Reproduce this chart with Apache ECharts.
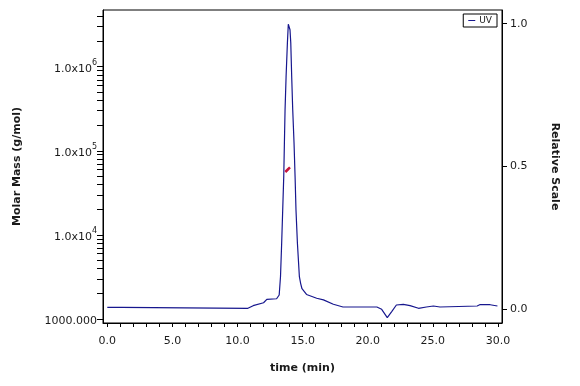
<!DOCTYPE html>
<html>
<head>
<meta charset="utf-8">
<script src="https://cdn.jsdelivr.net/npm/echarts@6/dist/echarts.min.js"></script>
<style>
  html, body { margin: 0; padding: 0; background: #fff; }
  #chart { width: 580px; height: 386px; }
</style>
</head>
<body>
<div id="chart"></div>
<script>
// UV trace (relative scale)
var uvTime = [0, 1.1, 1.15, 10.8, 11.2, 12.0, 12.25, 13.0, 13.2, 13.3, 13.39, 13.47, 13.55, 13.6, 13.65, 13.73, 13.83, 13.9, 13.96,
  14.03, 14.09, 14.16, 14.24, 14.34, 14.42, 14.49, 14.6, 14.75, 14.85, 14.95, 15.06, 15.3, 15.44, 16.08, 16.6, 17.36, 18.1,
  20.7, 21.07, 21.5, 21.84, 22.2, 22.73, 23.25, 23.9, 24.5, 25.04, 25.55, 28.4, 28.6, 29.4, 29.96];
var uvValue = [0.007, 0.007, 0.0035, 0.0035, 0.0126, 0.023, 0.035, 0.037, 0.05, 0.114, 0.231, 0.348, 0.465, 0.582, 0.698, 0.815, 0.932, 0.998, 1.005,
  0.979, 0.932, 0.815, 0.698, 0.582, 0.465, 0.348, 0.231, 0.114, 0.09, 0.072, 0.066, 0.052, 0.047, 0.0386, 0.033, 0.0175, 0.008,
  0.008, 0.0, -0.029, -0.008, 0.015, 0.0175, 0.0126, 0.0035, 0.008, 0.0116, 0.008, 0.0116, 0.016, 0.016, 0.0116];

// molar mass (g/mol)
var mmTime = [13.67, 13.8, 13.9, 14.03];
var mmValue = [56000, 58500, 60800, 63500];

var xLabels = [0, 5, 10, 15, 20, 25, 30];
var xTicks = [];
for (var i = 0; i <= 30; i++) xTicks.push(i);
var rightTicks = [0, 0.5, 1.0];
var logMajor = [1000, 10000, 100000, 1000000];
var logTicks = [];
[1000, 10000, 100000, 1000000].forEach(function (d) {
  for (var k = 1; k <= 9; k++) {
    if (d * k <= 4700000) logTicks.push(d * k);
  }
});

var font = 'DejaVu Sans';
var txt = '#1a1a1a';
var navy = '#17178e';

function pairs(xs, ys) {
  return xs.map(function (x, i) { return [x, ys[i]]; });
}

var borderLine = { show: true, onZero: false, lineStyle: { color: '#000', width: 1 } };

var chart = echarts.init(document.getElementById('chart'));
chart.setOption({
  animation: false,
  backgroundColor: '#fff',
  textStyle: { fontFamily: font },
  grid: {
    left: 103, right: 78, top: 10, bottom: 63,
    show: true, borderColor: '#000', borderWidth: 1, backgroundColor: '#fff'
  },
  legend: {
    data: [{ name: 'UV', icon: 'rect' }],
    right: 83, top: 14,
    itemWidth: 7, itemHeight: 1, itemGap: 4,
    padding: [2, 5, 2, 5],
    borderColor: '#000', borderWidth: 1, backgroundColor: '#fff',
    textStyle: { fontFamily: font, fontSize: 9, color: '#222', padding: [0, 0, 0, -1] }
  },
  xAxis: {
    type: 'value', min: -0.33, max: 30.31, position: 'bottom',
    name: 'time (min)', nameLocation: 'middle', nameGap: 40,
    nameTextStyle: { fontFamily: font, fontWeight: 'bold', fontSize: 11, color: txt },
    axisLine: borderLine,
    axisTick: { show: true, length: 4, customValues: xTicks, lineStyle: { color: '#000' } },
    axisLabel: {
      customValues: xLabels, margin: 13, fontSize: 11, color: txt, fontFamily: font,
      formatter: function (v) { return v.toFixed(1); }
    },
    splitLine: { show: false }
  },
  yAxis: [{
    type: 'log', logBase: 10, min: 896, max: 4730000, position: 'left',
    name: 'Molar Mass (g/mol)', nameLocation: 'middle', nameGap: 80, nameRotate: 90,
    nameTextStyle: { fontFamily: font, fontWeight: 'bold', fontSize: 11, color: txt },
    axisLine: borderLine,
    axisTick: { show: true, length: 6, customValues: logTicks, lineStyle: { color: '#000' } },
    axisLabel: {
      customValues: logMajor, margin: 6, fontSize: 11, color: txt, fontFamily: font,
      formatter: function (v) {
        if (v < 2000) return '{b|1000.000}';
        var e = Math.round(Math.log10(v));
        return '{b|1.0x10}{s|' + e + '}';
      },
      rich: {
        b: { fontSize: 11, color: txt, fontFamily: font, padding: [4, 0, 0, 0] },
        s: { fontSize: 8, color: txt, fontFamily: font, padding: [0, 0, 8, 0] }
      }
    },
    splitLine: { show: false }
  }, {
    type: 'value', min: -0.048, max: 1.048, position: 'right',
    name: 'Relative Scale', nameLocation: 'middle', nameGap: 47, nameRotate: -90,
    nameTextStyle: { fontFamily: font, fontWeight: 'bold', fontSize: 11, color: txt },
    axisLine: borderLine,
    axisTick: { show: true, length: 5, customValues: rightTicks, lineStyle: { color: '#000' } },
    axisLabel: {
      customValues: rightTicks, margin: 8, fontSize: 11, color: txt, fontFamily: font,
      formatter: function (v) { return v.toFixed(1); }
    },
    splitLine: { show: false }
  }],
  series: [{
    name: 'UV', type: 'line', yAxisIndex: 1,
    data: pairs(uvTime, uvValue),
    showSymbol: false, symbol: 'none',
    lineStyle: { color: navy, width: 1.2 },
    itemStyle: { color: navy }
  }, {
    name: 'Molar Mass', type: 'line', yAxisIndex: 0,
    data: pairs(mmTime, mmValue),
    showSymbol: false, symbol: 'none',
    lineStyle: { color: '#c8143c', width: 2.5 },
    itemStyle: { color: '#c8143c' }
  }]
});
</script>
</body>
</html>
